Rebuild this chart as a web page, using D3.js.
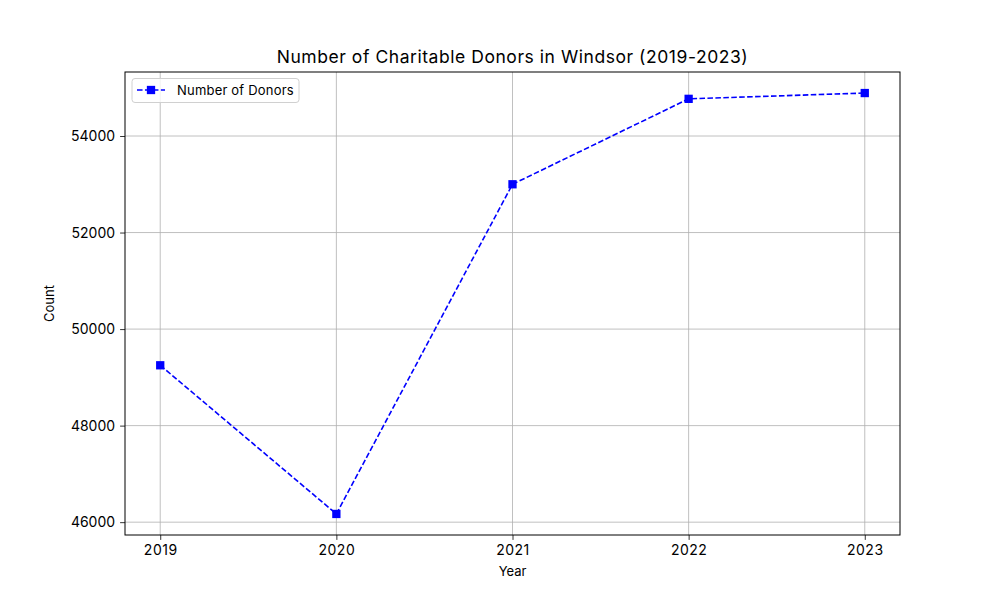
<!DOCTYPE html>
<html><head><meta charset="utf-8">
<script src="https://cdn.jsdelivr.net/npm/d3@7"></script>
<style>body{margin:0;background:#fff}svg{display:block}text{font-family:Inter,"Open Sans",sans-serif;fill:#000}</style>
</head><body>
<script>
const years = [2019, 2020, 2021, 2022, 2023];
const donors = [49250, 46170, 53000, 54770, 54890];
const yTicks = [46000, 48000, 50000, 52000, 54000];
const title = "Number of Charitable Donors in Windsor (2019-2023)";
const seriesName = "Number of Donors";

const W = 1000, H = 600;
const m = {l:125, r:900, t:72, b:535};
const svg = d3.select("body").append("svg").attr("width", W).attr("height", H);

const xPad = (d3.max(years)-d3.min(years))*0.05;
const x = d3.scaleLinear().domain([d3.min(years)-xPad, d3.max(years)+xPad]).range([m.l, m.r]);
const yMin = d3.min(donors), yMax = d3.max(donors), yPad = (yMax-yMin)*0.05;
const y = d3.scaleLinear().domain([yMin-yPad, yMax+yPad]).range([m.b, m.t]);

// grid
const g = svg.append("g");
g.selectAll(".gx").data(years).enter().append("line")
  .attr("x1", d=>x(d)).attr("x2", d=>x(d)).attr("y1", m.t).attr("y2", m.b)
  .attr("stroke", "#b0b0b0").attr("stroke-width", 0.8);
g.selectAll(".gy").data(yTicks).enter().append("line")
  .attr("y1", d=>y(d)).attr("y2", d=>y(d)).attr("x1", m.l).attr("x2", m.r)
  .attr("stroke", "#b0b0b0").attr("stroke-width", 0.8);

// axes
const xAxis = d3.axisBottom(x).tickValues(years).tickFormat(d3.format("d")).tickSize(4.9).tickPadding(5);
const yAxis = d3.axisLeft(y).tickValues(yTicks).tickFormat(d3.format("d")).tickSize(4.9).tickPadding(5);
const gx = svg.append("g").attr("transform", `translate(0,${m.b})`).call(xAxis);
const gy = svg.append("g").attr("transform", `translate(${m.l},0)`).call(yAxis);
[gx, gy].forEach(a => {
  a.select(".domain").remove();
  a.selectAll(".tick line").attr("stroke", "#000").attr("stroke-width", 0.8);
  a.selectAll(".tick text").attr("font-size", "14px").attr("font-family", "Inter, sans-serif").attr("fill", "#000");
});
gx.selectAll(".tick text").attr("letter-spacing", "0.5px");

// frame
svg.append("rect").attr("x", m.l).attr("y", m.t).attr("width", m.r-m.l).attr("height", m.b-m.t)
  .attr("fill", "none").attr("stroke", "#000").attr("stroke-width", 1);

// line
const line = d3.line().x((d,i)=>x(years[i])).y(d=>y(d));
svg.append("path").datum(donors).attr("d", line).attr("fill", "none")
  .attr("stroke", "blue").attr("stroke-width", 1.6).attr("stroke-dasharray", "5.55,2.4");
const ms = 8.3;
svg.selectAll(".pt").data(donors).enter().append("rect")
  .attr("x", (d,i)=>x(years[i])-ms/2).attr("y", d=>y(d)-ms/2).attr("width", ms).attr("height", ms)
  .attr("fill", "blue");

// labels
svg.append("text").attr("x", (m.l+m.r)/2).attr("y", 63).attr("text-anchor", "middle")
  .attr("font-size", "17.5px").attr("letter-spacing", "0.55px").text(title);
svg.append("text").attr("x", (m.l+m.r)/2).attr("y", 576).attr("text-anchor", "middle")
  .attr("font-size", "13px").text("Year");
svg.append("text").attr("transform", `translate(54,${(m.t+m.b)/2}) rotate(-90)`).attr("text-anchor", "middle")
  .attr("font-size", "13px").text("Count");

// legend
const lg = svg.append("g");
lg.append("rect").attr("x", 132).attr("y", 78.5).attr("width", 167).attr("height", 24).attr("rx", 3)
  .attr("fill", "#fff").attr("fill-opacity", 0.8).attr("stroke", "#d0d0d0").attr("stroke-width", 1);
lg.append("line").attr("x1", 137).attr("x2", 165).attr("y1", 90).attr("y2", 90)
  .attr("stroke", "blue").attr("stroke-width", 1.6).attr("stroke-dasharray", "5.55,2.4");
lg.append("rect").attr("x", 151-ms/2).attr("y", 90-ms/2).attr("width", ms).attr("height", ms).attr("fill", "blue");
lg.append("text").attr("x", 177).attr("y", 94.5).attr("font-size", "13px").attr("letter-spacing", "0.2px").text(seriesName);
</script>
</body></html>
